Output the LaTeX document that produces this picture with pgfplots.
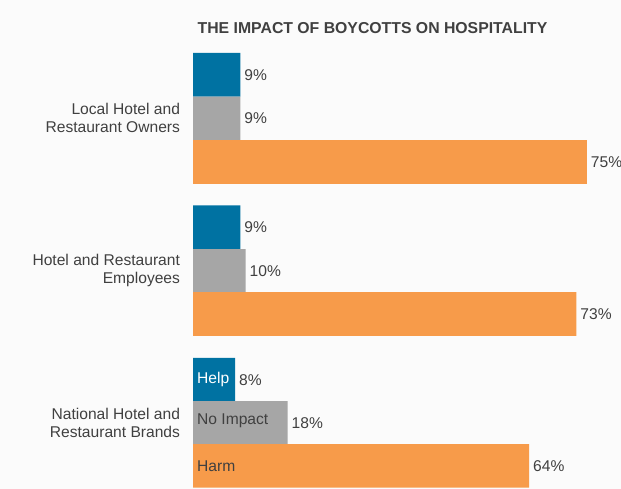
\documentclass[border=0pt]{standalone}
\usepackage{pgfplots}
\pgfplotsset{compat=1.18}
\usepackage{fontspec}
\setmainfont{Liberation Sans}
\definecolor{cblue}{RGB}{0,114,162}
\definecolor{cgray}{RGB}{166,166,166}
\definecolor{corange}{RGB}{247,155,74}
\definecolor{ctext}{RGB}{64,64,64}
\definecolor{bg}{RGB}{251,251,251}
\begin{document}
\begin{tikzpicture}
\useasboundingbox (0,0) rectangle (621pt,489pt);
\fill[bg] (0,0) rectangle (621pt,489pt);
\node[font=\bfseries\fontsize{15.8}{18}\selectfont, text=ctext] at (372.5pt,489pt-28pt) {THE IMPACT OF BOYCOTTS ON HOSPITALITY};
\begin{axis}[
  at={(193pt,0pt)}, anchor=south west,
  scale only axis, width=393.75pt, height=489pt,
  xmin=0, xmax=75, ymin=0, ymax=489, y dir=reverse,
  hide axis, clip=false,
  /pgf/number format/assume math mode=true,
  xbar, bar width=43.6, bar shift=0pt,
  every axis plot/.append style={draw=none},
  nodes near coords={\pgfmathprintnumber{\pgfplotspointmeta}\%},
  nodes near coords align={horizontal},
  every node near coord/.append style={font=\fontsize{15.6}{18}\selectfont, text=ctext, anchor=west, inner sep=0pt, xshift=4pt},
  point meta=x,
]
\addplot[fill=cblue] coordinates {(9,74.8) (9,227.2) (8,379.7)};
\addplot[fill=cgray] coordinates {(9,118.4) (10,270.8) (18,423)};
\addplot[fill=corange] coordinates {(75,162) (73,314) (64,465.8)};

\begin{scope}[every node/.style={font=\fontsize{15.6}{18}\selectfont, text=ctext, align=right, anchor=east}]
\node at (axis cs:0,118) [xshift=-9.5pt] {Local Hotel and\\Restaurant Owners};
\node at (axis cs:0,270.5) [xshift=-9.5pt] {Hotel and Restaurant\\Employees};
\node at (axis cs:0,423) [xshift=-9.5pt] {National Hotel and\\Restaurant Brands};
\end{scope}
\begin{scope}[every node/.style={font=\fontsize{15.6}{18}\selectfont, anchor=west, inner sep=0pt}]
\node[text=white] at (axis cs:0,379.7) [xshift=4pt] {Help};
\node[text=ctext] at (axis cs:0,421) [xshift=4pt] {No Impact};
\node[text=ctext] at (axis cs:0,465.8) [xshift=4pt] {Harm};
\end{scope}
\end{axis}
\end{tikzpicture}
\end{document}
